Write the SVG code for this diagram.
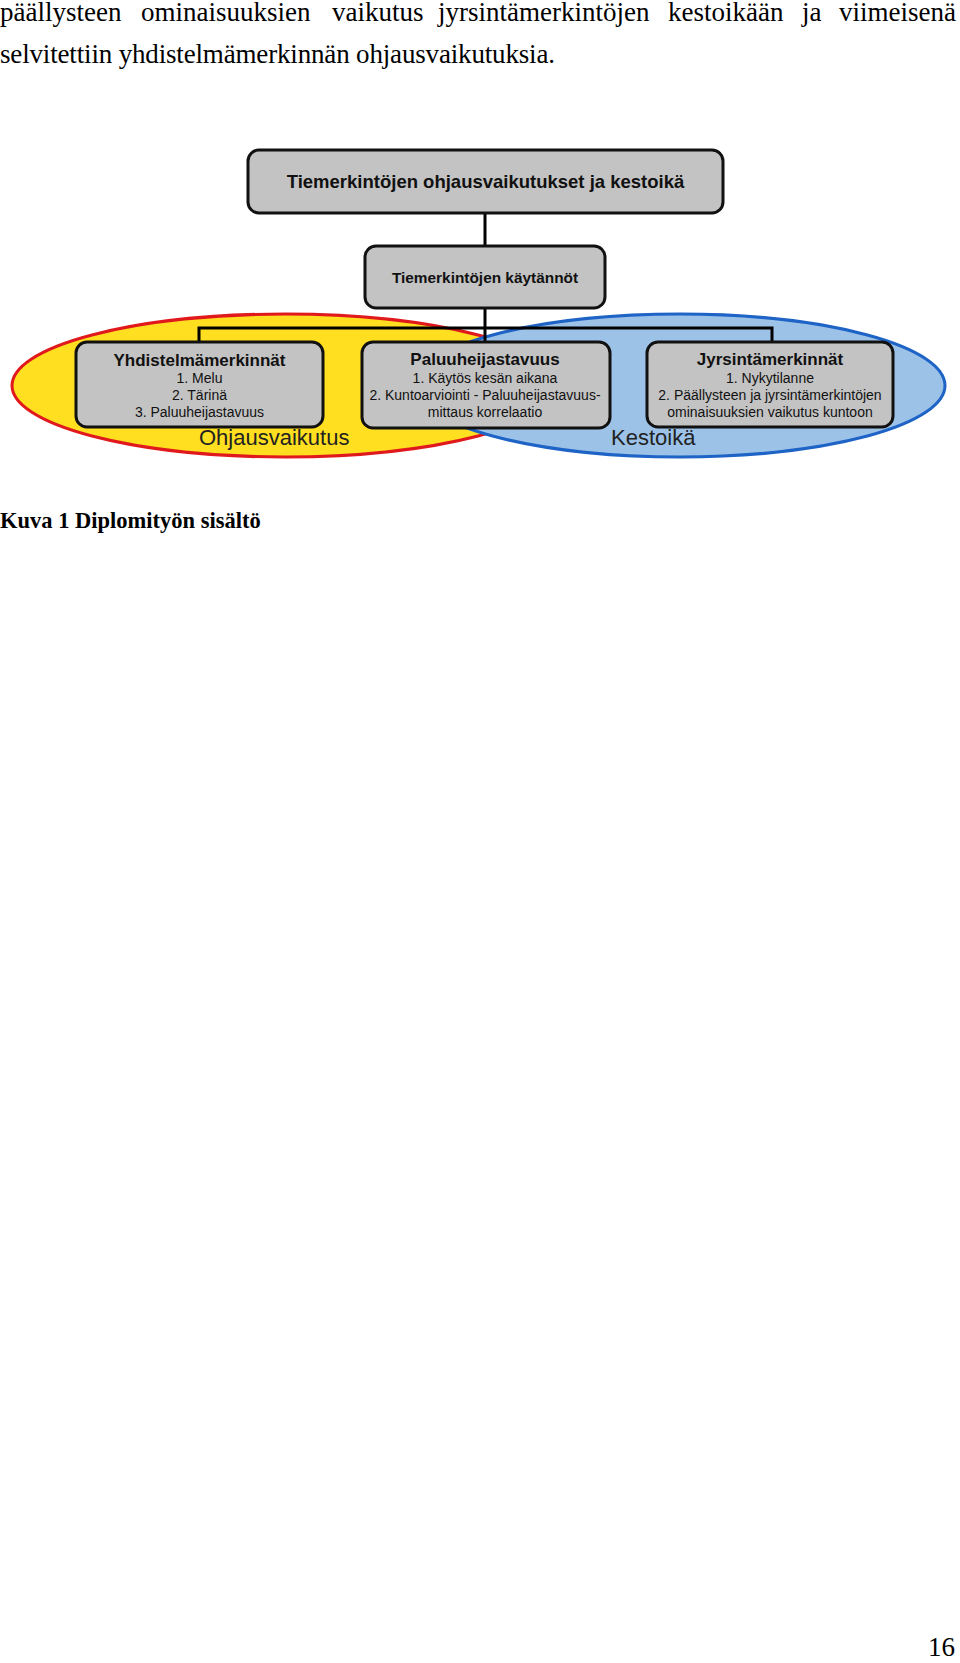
<svg xmlns="http://www.w3.org/2000/svg" width="960" height="1663" viewBox="0 0 960 1663">
<style>
.body{font-family:"Liberation Serif","Times New Roman",serif;font-size:27px;fill:#000}
.cap{font-family:"Liberation Serif","Times New Roman",serif;font-size:22.5px;font-weight:bold;fill:#000}
.box{fill:#c3c3c3;stroke:#111;stroke-width:3}
.t{font-family:"Liberation Sans",Arial,sans-serif;fill:#111;text-anchor:middle}
.ttl{font-weight:bold;font-size:17px}
.ln{font-size:14px}
.conn{stroke:#000;stroke-width:3;fill:none}
.lbl{font-family:"Liberation Sans",Arial,sans-serif;font-size:22px;fill:#222}
</style>
<rect width="960" height="1663" fill="#fff"/>
<text class="body" y="21"><tspan x="0">päällysteen</tspan><tspan x="141">ominaisuuksien</tspan><tspan x="332">vaikutus</tspan><tspan x="438">jyrsintämerkintöjen</tspan><tspan x="668">kestoikään</tspan><tspan x="802">ja</tspan><tspan x="839">viimeisenä</tspan></text>
<text class="body" x="0" y="63" textLength="555" lengthAdjust="spacing">selvitettiin yhdistelmämerkinnän ohjausvaikutuksia.</text>
<g id="ohjausvaikutus">
<ellipse cx="285" cy="385.5" rx="273" ry="71.5" fill="#ffdf1f" stroke="#e0191c" stroke-width="3"/>
</g>
<g id="kestoika">
<ellipse cx="680" cy="385.5" rx="265" ry="71.5" fill="#9cc2e8" stroke="#1e63c6" stroke-width="3"/>
</g>
<text class="lbl" x="199" y="445">Ohjausvaikutus</text>
<text class="lbl" x="611" y="445">Kestoikä</text>
<g id="connectors">
<line class="conn" x1="485" y1="213" x2="485" y2="246"/>
<polyline class="conn" points="199,342 199,328 772,328 772,342"/>
<line class="conn" x1="485" y1="308" x2="485" y2="342"/>
</g>
<g id="node-top">
<rect class="box" x="248" y="150" width="475" height="63" rx="11"/>
<text class="t" x="485.5" y="188" font-weight="bold" font-size="18.5">Tiemerkintöjen ohjausvaikutukset ja kestoikä</text>
</g>
<g id="node-kaytannot">
<rect class="box" x="365" y="246" width="240" height="62" rx="11"/>
<text class="t" x="485" y="283" font-weight="bold" font-size="15.4">Tiemerkintöjen käytännöt</text>
</g>
<g id="node-yhdistelma">
<rect class="box" x="76" y="342" width="247" height="85" rx="11"/>
<text class="t ttl" x="199.5" y="366">Yhdistelmämerkinnät</text>
<text class="t ln" x="199.5" y="383">1. Melu</text>
<text class="t ln" x="199.5" y="400">2. Tärinä</text>
<text class="t ln" x="199.5" y="417">3. Paluuheijastavuus</text>
</g>
<g id="node-paluu">
<rect class="box" x="362" y="342" width="248" height="86" rx="11"/>
<text class="t ttl" x="485" y="365">Paluuheijastavuus</text>
<text class="t ln" x="485" y="383">1. Käytös kesän aikana</text>
<text class="t ln" x="485" y="400">2. Kuntoarviointi - Paluuheijastavuus-</text>
<text class="t ln" x="485" y="417">mittaus korrelaatio</text>
</g>
<g id="node-jyrsinta">
<rect class="box" x="647" y="342" width="246" height="85" rx="11"/>
<text class="t ttl" x="770" y="365">Jyrsintämerkinnät</text>
<text class="t ln" x="770" y="383">1. Nykytilanne</text>
<text class="t ln" x="770" y="400">2. Päällysteen ja jyrsintämerkintöjen</text>
<text class="t ln" x="770" y="417">ominaisuuksien vaikutus kuntoon</text>
</g>
<text class="cap" x="0" y="528">Kuva 1 Diplomityön sisältö</text>
<text class="body" x="955" y="1656" text-anchor="end" font-size="25">16</text>
</svg>
